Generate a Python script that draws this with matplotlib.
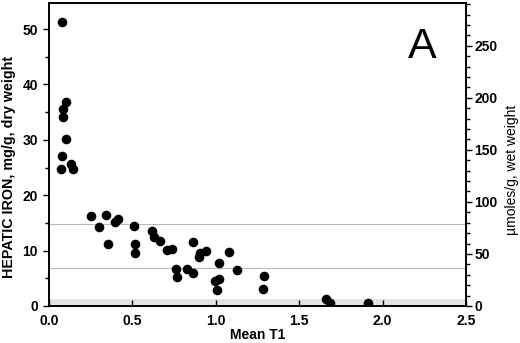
import matplotlib
matplotlib.use("Agg")
import matplotlib.pyplot as plt
from matplotlib.ticker import MultipleLocator, FormatStrFormatter

plt.rcParams['font.family'] = ['Liberation Sans', 'DejaVu Sans']
plt.rcParams['font.weight'] = 'bold'

mean_t1 = [0.076, 0.10, 0.086, 0.086, 0.102, 0.076, 0.07, 0.132, 0.146,
           0.25, 0.30, 0.34, 0.352, 0.396, 0.415, 0.51, 0.514, 0.514,
           0.62, 0.63, 0.665, 0.71, 0.735, 0.761, 0.769, 0.826, 0.862,
           0.862, 0.905, 0.90, 0.941, 0.995, 1.02, 1.007, 1.02, 1.08, 1.13,
           1.289, 1.285, 1.659, 1.685, 1.91]
hepatic_iron = [51.3, 36.9, 35.5, 34.1, 30.2, 27.0, 24.8, 25.6, 24.7,
                16.3, 14.2, 16.5, 11.1, 15.1, 15.7, 14.5, 11.1, 9.6,
                13.5, 12.4, 11.8, 10.05, 10.2, 6.6, 5.2, 6.6, 5.9,
                11.6, 9.6, 8.9, 9.9, 4.5, 4.8, 2.9, 7.7, 9.7, 6.5,
                5.4, 3.0, 1.2, 0.6, 0.6]
ref_lines = [14.8, 6.8]
band_top = 1.3

fig = plt.figure(figsize=(5.2, 3.43), dpi=100)
ax = fig.add_axes([0.0942, 0.108, 0.8019, 0.883])
ymax = 54.7

ax.axhspan(0, band_top, color='#e4e4e4', lw=0, zorder=1)
for v in ref_lines:
    ax.axhline(v, color='#b8b8b8', lw=0.8, zorder=1)
ax.scatter(mean_t1, hepatic_iron, s=48, color='black', zorder=3, linewidths=0)
ax.set_xlim(0, 2.5)
ax.set_ylim(0, ymax)

ax.xaxis.set_major_locator(MultipleLocator(0.5))
ax.xaxis.set_major_formatter(FormatStrFormatter('%.1f'))
ax.yaxis.set_major_locator(MultipleLocator(10))
ax.yaxis.set_minor_locator(MultipleLocator(5))
ax.tick_params(axis='x', direction='in', length=4, width=1, pad=6, labelsize=10)
ax.tick_params(axis='y', which='major', direction='out', length=4, width=1, pad=4, labelsize=10)
ax.tick_params(axis='y', which='minor', direction='out', length=3, width=1)
for s in ax.spines.values():
    s.set_linewidth(1.2)

ax.set_xlabel('Mean T1', fontweight='bold', fontsize=10, labelpad=0)
ax.set_ylabel('HEPATIC IRON, mg/g, dry weight', fontweight='bold', fontsize=10.3)
ax.yaxis.set_label_coords(-0.079, 0.46)

ax2 = ax.twinx()
ax2.set_ylim(0, ymax * 5.32)
ax2.yaxis.set_major_locator(MultipleLocator(50))
ax2.yaxis.set_minor_locator(MultipleLocator(10))
ax2.tick_params(axis='y', which='major', direction='out', length=4, width=1, pad=2, labelsize=10)
ax2.tick_params(axis='y', which='minor', direction='out', length=3, width=1)
ax2.set_ylabel('\u00b5moles/g, wet weight', fontsize=10, fontweight='normal')
ax2.yaxis.set_label_coords(1.094, 0.45)
for s in ax2.spines.values():
    s.set_linewidth(1.2)

ax.text(0.895, 0.855, 'A', transform=ax.transAxes, fontsize=31, fontweight='normal',
        ha='center', va='center')

fig.savefig('out.png', dpi=100)
